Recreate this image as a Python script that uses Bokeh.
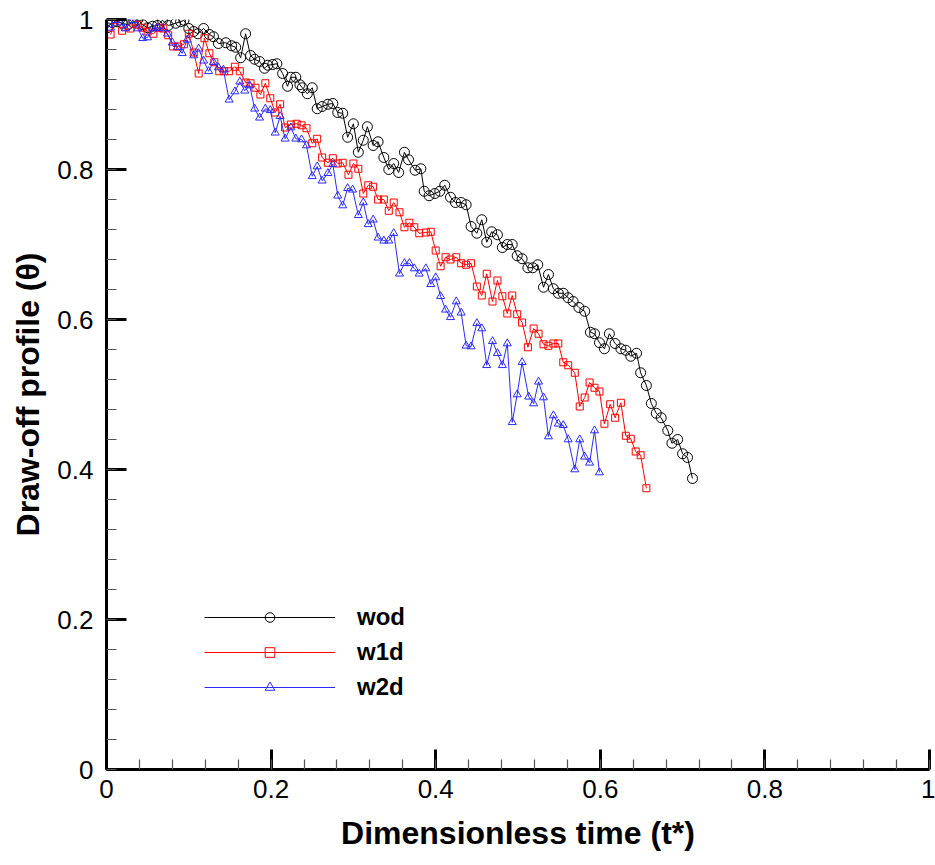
from bokeh.plotting import figure
from bokeh.models import FixedTicker, Legend, LegendItem, Range1d
from bokeh.embed import file_html
from bokeh.resources import INLINE

# ---------------- data ----------------
wod_t = [0.001, 0.007, 0.013, 0.019, 0.026, 0.032, 0.038, 0.044, 0.050, 0.056,
         0.062, 0.068, 0.075, 0.084, 0.090, 0.094, 0.100, 0.106, 0.111, 0.118,
         0.125, 0.130, 0.136, 0.145, 0.152, 0.157, 0.163, 0.169, 0.175, 0.180,
         0.186, 0.192, 0.196, 0.202, 0.207, 0.214, 0.220, 0.224, 0.230, 0.235,
         0.238, 0.244, 0.250, 0.256, 0.262, 0.269, 0.275, 0.281, 0.287, 0.293,
         0.300, 0.306, 0.312, 0.317, 0.324, 0.330, 0.337, 0.343, 0.349, 0.355,
         0.362, 0.367, 0.375, 0.382, 0.386, 0.392, 0.399, 0.405, 0.411, 0.418,
         0.424, 0.431, 0.437, 0.443, 0.450, 0.456, 0.462, 0.468, 0.475, 0.481,
         0.487, 0.493, 0.499, 0.505, 0.512, 0.518, 0.524, 0.531, 0.537, 0.543,
         0.549, 0.555, 0.561, 0.567, 0.574, 0.581, 0.588, 0.593, 0.599, 0.605,
         0.611, 0.618, 0.625, 0.631, 0.637, 0.644, 0.649, 0.656, 0.662, 0.668,
         0.674, 0.682, 0.687, 0.694, 0.700, 0.706, 0.712]
wod_theta = [0.989, 0.996, 0.997, 0.995, 0.993, 0.996, 1.000, 0.993, 0.989, 0.991,
             0.992, 0.999, 0.992, 0.995, 0.997, 0.999, 0.988, 0.984, 0.981, 0.988,
             0.980, 0.977, 0.968, 0.969, 0.965, 0.963, 0.949, 0.981, 0.952, 0.947,
             0.944, 0.935, 0.939, 0.940, 0.941, 0.928, 0.911, 0.923, 0.923, 0.913,
             0.909, 0.901, 0.909, 0.881, 0.884, 0.887, 0.888, 0.876, 0.875, 0.843,
             0.861, 0.823, 0.839, 0.857, 0.832, 0.837, 0.816, 0.800, 0.808, 0.796,
             0.823, 0.813, 0.799, 0.801, 0.771, 0.765, 0.768, 0.771, 0.779, 0.763,
             0.756, 0.756, 0.753, 0.724, 0.715, 0.733, 0.703, 0.717, 0.713, 0.696,
             0.700, 0.700, 0.685, 0.681, 0.669, 0.669, 0.673, 0.643, 0.660, 0.641,
             0.635, 0.635, 0.629, 0.624, 0.616, 0.611, 0.583, 0.581, 0.569, 0.561,
             0.581, 0.568, 0.561, 0.559, 0.551, 0.555, 0.529, 0.512, 0.488, 0.475,
             0.469, 0.452, 0.435, 0.440, 0.421, 0.416, 0.388]

w1d_t = [0.005, 0.011, 0.019, 0.029, 0.038, 0.044, 0.050, 0.057, 0.064, 0.069,
         0.075, 0.081, 0.087, 0.094, 0.100, 0.106, 0.112, 0.119, 0.125, 0.131,
         0.137, 0.143, 0.149, 0.156, 0.162, 0.169, 0.175, 0.181, 0.187, 0.193,
         0.199, 0.205, 0.211, 0.217, 0.224, 0.231, 0.237, 0.243, 0.250, 0.256,
         0.262, 0.269, 0.275, 0.281, 0.287, 0.294, 0.300, 0.306, 0.312, 0.318,
         0.324, 0.330, 0.337, 0.343, 0.349, 0.356, 0.362, 0.368, 0.374, 0.380,
         0.388, 0.394, 0.400, 0.406, 0.412, 0.418, 0.425, 0.431, 0.437, 0.443,
         0.450, 0.456, 0.462, 0.469, 0.475, 0.481, 0.487, 0.493, 0.499, 0.505,
         0.512, 0.519, 0.525, 0.531, 0.537, 0.543, 0.549, 0.555, 0.561, 0.569,
         0.575, 0.581, 0.587, 0.593, 0.599, 0.605, 0.612, 0.618, 0.625, 0.631,
         0.637, 0.643, 0.649, 0.656]
w1d_theta = [0.980, 1.000, 0.985, 0.988, 0.993, 0.989, 0.984, 0.981, 0.989, 0.988,
             0.979, 0.964, 0.964, 0.967, 0.981, 0.956, 0.928, 0.975, 0.955, 0.943,
             0.931, 0.931, 0.931, 0.937, 0.931, 0.916, 0.915, 0.909, 0.900, 0.915,
             0.895, 0.876, 0.887, 0.856, 0.860, 0.861, 0.859, 0.855, 0.835, 0.841,
             0.816, 0.809, 0.815, 0.808, 0.809, 0.793, 0.808, 0.801, 0.768, 0.779,
             0.777, 0.760, 0.760, 0.745, 0.756, 0.743, 0.723, 0.729, 0.723, 0.715,
             0.716, 0.717, 0.692, 0.671, 0.683, 0.680, 0.683, 0.675, 0.673, 0.675,
             0.644, 0.632, 0.661, 0.624, 0.652, 0.631, 0.608, 0.632, 0.607, 0.596,
             0.563, 0.588, 0.581, 0.567, 0.565, 0.568, 0.568, 0.543, 0.539, 0.529,
             0.484, 0.496, 0.516, 0.509, 0.504, 0.461, 0.487, 0.469, 0.489, 0.445,
             0.441, 0.424, 0.419, 0.375]

w2d_t = [0.005, 0.011, 0.017, 0.023, 0.032, 0.038, 0.044, 0.050, 0.056, 0.062,
         0.068, 0.074, 0.080, 0.086, 0.092, 0.098, 0.106, 0.112, 0.118, 0.124,
         0.130, 0.136, 0.142, 0.149, 0.156, 0.162, 0.168, 0.174, 0.180, 0.186,
         0.193, 0.199, 0.205, 0.211, 0.217, 0.224, 0.230, 0.237, 0.243, 0.250,
         0.256, 0.262, 0.269, 0.275, 0.281, 0.287, 0.293, 0.299, 0.306, 0.312,
         0.318, 0.324, 0.330, 0.337, 0.343, 0.349, 0.356, 0.362, 0.368, 0.374,
         0.380, 0.388, 0.394, 0.400, 0.406, 0.412, 0.418, 0.425, 0.431, 0.437,
         0.443, 0.450, 0.456, 0.462, 0.469, 0.475, 0.481, 0.487, 0.493, 0.499,
         0.505, 0.513, 0.519, 0.525, 0.531, 0.537, 0.543, 0.549, 0.555, 0.561,
         0.569, 0.575, 0.581, 0.587, 0.593, 0.599]
w2d_theta = [0.989, 0.999, 0.996, 0.988, 0.999, 0.988, 0.975, 0.976, 0.988, 0.989,
             0.988, 0.981, 0.969, 0.963, 0.955, 0.973, 0.952, 0.961, 0.945, 0.931,
             0.943, 0.936, 0.933, 0.893, 0.904, 0.917, 0.905, 0.912, 0.881, 0.869,
             0.881, 0.879, 0.849, 0.871, 0.841, 0.856, 0.841, 0.840, 0.832, 0.791,
             0.804, 0.785, 0.795, 0.807, 0.765, 0.752, 0.775, 0.773, 0.739, 0.756,
             0.727, 0.733, 0.709, 0.705, 0.705, 0.715, 0.661, 0.675, 0.675, 0.668,
             0.661, 0.668, 0.647, 0.656, 0.631, 0.613, 0.603, 0.624, 0.609, 0.565,
             0.564, 0.595, 0.588, 0.539, 0.571, 0.555, 0.539, 0.568, 0.463, 0.500,
             0.543, 0.497, 0.488, 0.517, 0.496, 0.444, 0.472, 0.461, 0.459, 0.440,
             0.400, 0.440, 0.417, 0.409, 0.452, 0.396]

series_names = ["wod", "w1d", "w2d"]
tick_values = [0, 0.2, 0.4, 0.6, 0.8, 1]
tick_labels = ["0", "0.2", "0.4", "0.6", "0.8", "1"]
minor_values = [round(i * 0.04, 2) for i in range(26)]

x_label = "Dimensionless time (t*)"
y_label = "Draw-off profile (\u03b8)"

# ---------------- figure ----------------
FONT = "Liberation Sans"
p = figure(width=935, height=865, output_backend="svg", toolbar_location=None,
           x_range=Range1d(0, 1), y_range=Range1d(0, 1),
           min_border_left=106, min_border_right=6, min_border_top=19,
           min_border_bottom=96)
p.outline_line_color = None
p.xgrid.visible = False
p.ygrid.visible = False
p.background_fill_color = "white"
p.border_fill_color = "white"

styles = [
    dict(color="black", marker="circle", size=10),
    dict(color="red", marker="square", size=7),
    dict(color="#2b2bff", marker="triangle", size=8),
]
data = [(wod_t, wod_theta), (w1d_t, w1d_theta), (w2d_t, w2d_theta)]

items = []
for name, (tx, ty), st in zip(series_names, data, styles):
    ln = p.line(tx, ty, line_color=st["color"], line_width=1)
    sc = p.scatter(tx, ty, marker=st["marker"], size=st["size"],
                   line_color=st["color"], fill_color=None, line_width=1)
    items.append(LegendItem(label=name, renderers=[ln, sc]))

legend = Legend(items=items, location=(98, 68), border_line_color=None,
                background_fill_alpha=0, padding=0, margin=0,
                glyph_width=131, glyph_height=24, spacing=7,
                label_standoff=22, label_text_font_size="24px",
                label_text_font_style="bold", label_text_font=FONT,
                label_text_color="black")
p.add_layout(legend)

for ax in (p.xaxis[0], p.yaxis[0]):
    ax.ticker = FixedTicker(ticks=tick_values, minor_ticks=minor_values)
    ax.major_label_overrides = {v: l for v, l in zip(tick_values, tick_labels)}
    ax.axis_line_width = 3
    ax.axis_line_color = "black"
    ax.major_tick_in = 20
    ax.major_tick_out = 0
    ax.major_tick_line_width = 3
    ax.minor_tick_in = 10
    ax.minor_tick_out = 0
    ax.minor_tick_line_width = 1.2
    ax.minor_tick_line_color = "#555555"
    ax.major_label_text_font = FONT
    ax.major_label_text_font_size = "26px"
    ax.major_label_text_color = "black"
    ax.axis_label_text_font = FONT
    ax.axis_label_text_font_size = "32px"
    ax.axis_label_text_font_style = "bold"
    ax.axis_label_text_color = "black"

p.xaxis[0].axis_label = x_label
p.yaxis[0].axis_label = y_label
p.xaxis[0].major_label_standoff = 10
p.xaxis[0].axis_label_standoff = 14
p.yaxis[0].major_label_standoff = 13
p.yaxis[0].axis_label_standoff = 8

open("out.html", "w").write(file_html(p, INLINE))
